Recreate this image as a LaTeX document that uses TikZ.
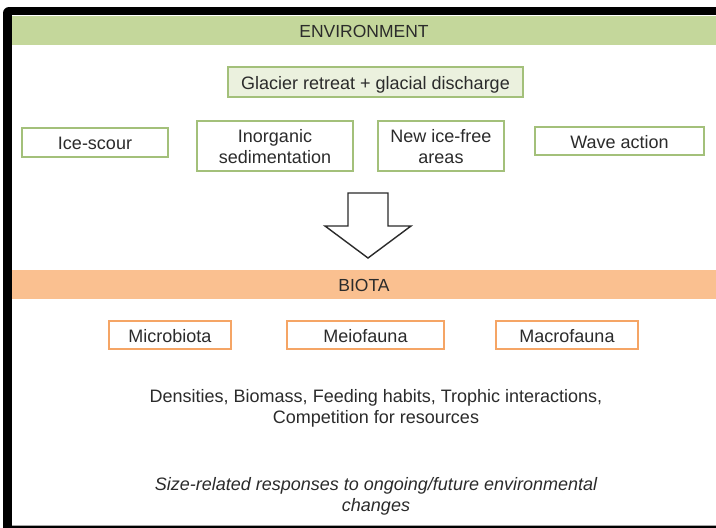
\documentclass[tikz,border=0pt]{standalone}
\usepackage{fontspec}
\setmainfont{Liberation Sans}
\definecolor{ink}{HTML}{2B2B2B}
\definecolor{envband}{HTML}{C4D79B}
\definecolor{envfill}{HTML}{EBF1DE}
\definecolor{envline}{HTML}{A3C07A}
\definecolor{bioband}{HTML}{FAC090}
\definecolor{bioline}{HTML}{F5A565}
\begin{document}
\begin{tikzpicture}[x=1pt,y=-1pt,
  every node/.style={font=\fontsize{18}{21}\selectfont, text=ink, inner sep=0pt,
    text height=14pt, text depth=0pt},
  twoline/.style={text height=35pt, text depth=0pt},
  envbox/.style={draw=envline, line width=1.3pt, align=center},
  biobox/.style={draw=bioline, line width=1.3pt, align=center},
  band/.style={minimum width=704pt, minimum height=29pt},
  blockarrow/.style={draw=ink, line width=1.4pt, fill=white, line join=miter}]
\useasboundingbox (0,0) rectangle (716,528);
\clip (0,0) rectangle (716,528);

% outer frame
\fill[black, rounded corners=6pt] (3,7) rectangle (760,560);
\fill[white] (12,15) rectangle (716,526);
\draw[black!35, line width=0.6pt] (12,525.5) -- (716,525.5);

% section bands
\node[band, fill=envband, font=\fontsize{17.5}{21}\selectfont] (env) at (364,30.5) {ENVIRONMENT};
\node[band, fill=bioband, font=\fontsize{17.5}{21}\selectfont] (bio) at (364,284) {BIOTA};

% environmental drivers
\node[envbox, fill=envfill, minimum width=295pt, minimum height=30pt] (glac) at (375.5,82) {Glacier retreat + glacial discharge};
\node[envbox, minimum width=146pt, minimum height=29pt] (scour) at (95,142.5) {Ice-scour};
\node[envbox, twoline, minimum width=156pt, minimum height=50pt] (sed) at (275,146) {Inorganic\\sedimentation};
\node[envbox, twoline, minimum width=126pt, minimum height=50pt] (icefree) at (441,146) {New ice-free\\areas};
\node[envbox, minimum width=169pt, minimum height=28pt] (wave) at (619.5,141) {Wave action};

% block arrow from environment to biota
\draw[blockarrow] (348,193) -- (388,193) -- (388,226) -- (411,226) -- (368,258)
  -- (325,226) -- (348,226) -- cycle;

% size classes
\node[biobox, minimum width=122pt, minimum height=28pt] (micro) at (170,335) {Microbiota};
\node[biobox, minimum width=157pt, minimum height=28pt] (meio) at (365.5,335) {Meiofauna};
\node[biobox, minimum width=142pt, minimum height=28pt] (macro) at (567,335) {Macrofauna};

% responses
\node[twoline, align=center] (resp) at (376,405.5) {Densities, Biomass, Feeding habits, Trophic interactions,\\Competition for resources};
\node[twoline, align=center, font=\fontsize{18}{21}\selectfont\itshape] (size) at (376,493.5) {Size-related responses to ongoing/future environmental\\changes};
\end{tikzpicture}
\end{document}
